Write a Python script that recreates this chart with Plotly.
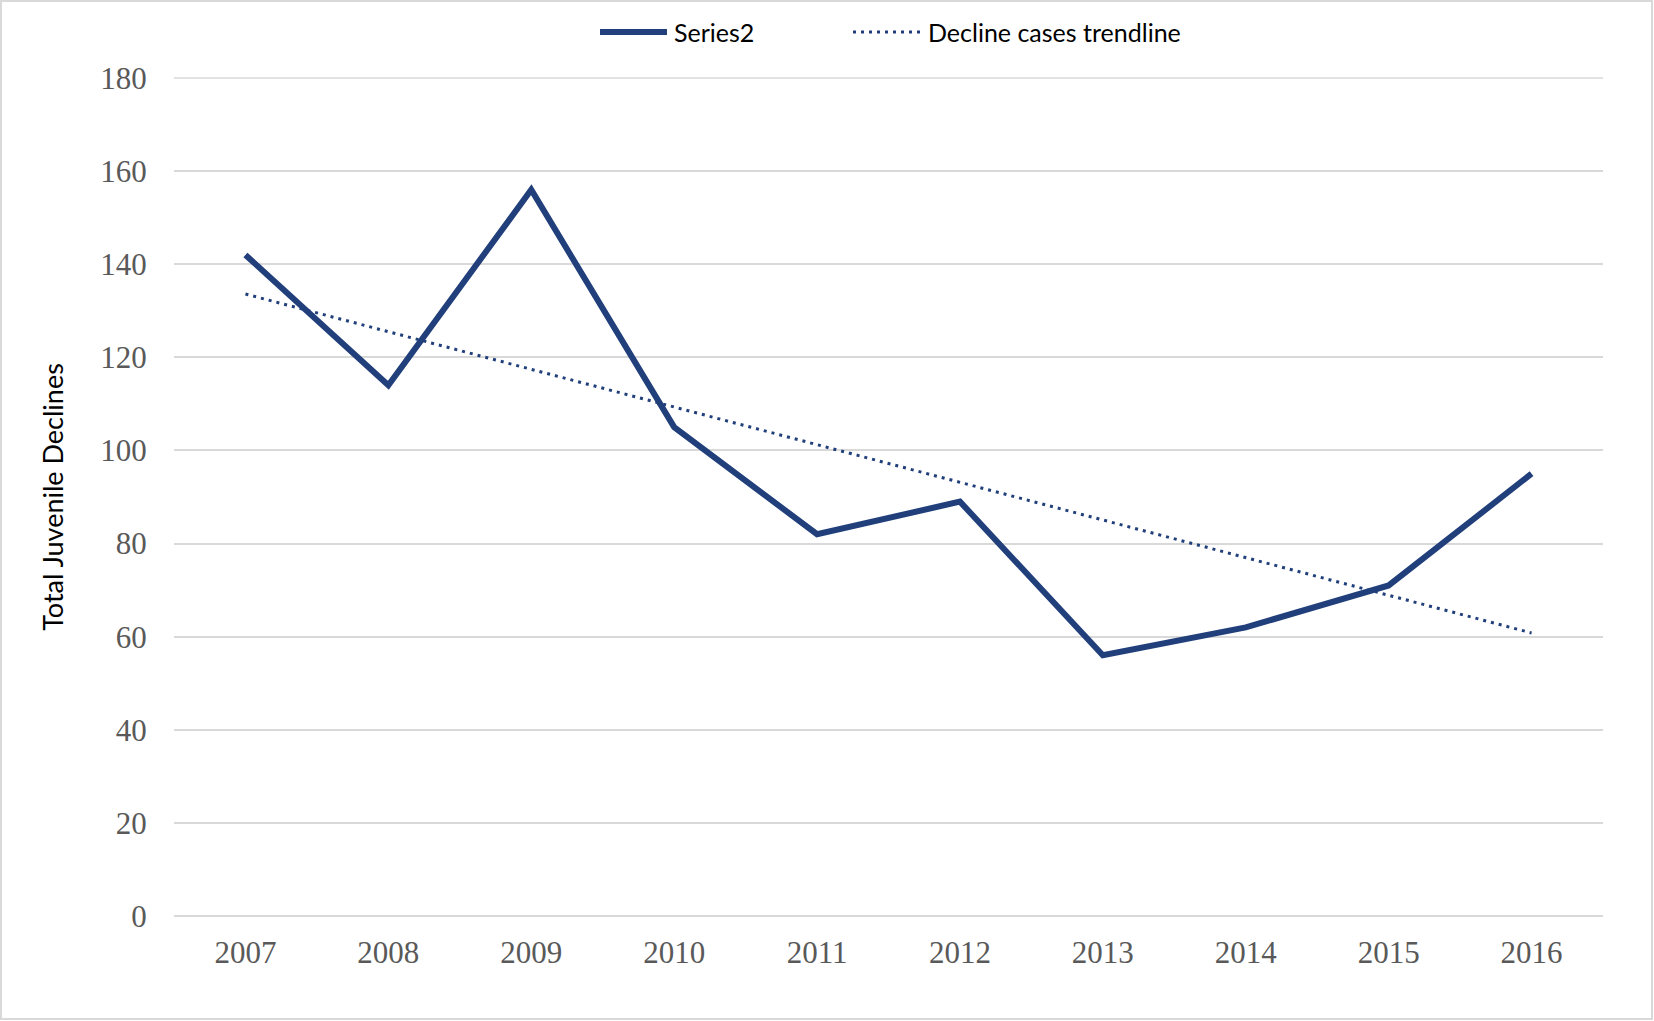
import plotly.graph_objects as go

# Yearly totals of juvenile declines
years = ["2007", "2008", "2009", "2010", "2011", "2012", "2013", "2014", "2015", "2016"]
declines = [142, 114, 156, 105, 82, 89, 56, 62, 71, 95]

# Linear trendline endpoints (first and last year)
trend_years = ["2007", "2016"]
trend_values = [133.6, 60.8]

y_ticks = [0, 20, 40, 60, 80, 100, 120, 140, 160, 180]

W, H = 1654, 1021
L, R, T, B = 174, 51, 78, 105
PW, PH = W - L - R, H - T - B

NAVY = "#213f7b"
GRID = "#d9d9d9"
TICK_FONT = dict(family="Liberation Serif", size=31, color="#595959")
SANS = "Lato"


def px_x(p):
    return (p - L) / PW


def px_y(p):
    return (H - B - p) / PH


fig = go.Figure()

fig.add_trace(go.Scatter(
    x=years, y=declines, mode="lines", name="Series2",
    line=dict(color=NAVY, width=6),
    showlegend=False,
))

fig.add_trace(go.Scatter(
    x=trend_years, y=trend_values, mode="lines", name="Decline cases trendline",
    line=dict(color=NAVY, width=3, dash="3px,5px"),
    showlegend=False,
))

shapes = [
    # outer frame
    dict(type="rect", xref="paper", yref="paper",
         x0=px_x(1), x1=px_x(W - 2), y0=px_y(H - 2), y1=px_y(1),
         line=dict(color=GRID, width=2), fillcolor="rgba(0,0,0,0)", layer="below"),
    # gridline along the top edge of the plot area (value range maximum)
    dict(type="line", xref="paper", yref="paper", x0=0, x1=1, y0=1, y1=1,
         line=dict(color=GRID, width=1.5), layer="below"),
    # legend samples
    dict(type="line", xref="paper", yref="paper",
         x0=px_x(600), x1=px_x(667), y0=px_y(32), y1=px_y(32),
         line=dict(color=NAVY, width=6)),
    dict(type="line", xref="paper", yref="paper",
         x0=px_x(853), x1=px_x(923), y0=px_y(32), y1=px_y(32),
         line=dict(color=NAVY, width=3, dash="3px,5px")),
]

annotations = [
    dict(text="Series2", xref="paper", yref="paper", x=px_x(672), y=px_y(32),
         xanchor="left", yanchor="middle", showarrow=False,
         font=dict(family=SANS, size=25, color="#000000")),
    dict(text="Decline cases trendline", xref="paper", yref="paper", x=px_x(926), y=px_y(32),
         xanchor="left", yanchor="middle", showarrow=False,
         font=dict(family=SANS, size=25, color="#000000")),
]

fig.update_layout(
    width=W, height=H,
    margin=dict(l=L, r=R, t=T, b=B, pad=0),
    paper_bgcolor="white", plot_bgcolor="white",
    shapes=shapes, annotations=annotations,
    showlegend=False,
    xaxis=dict(
        type="category", categoryorder="array", categoryarray=years,
        range=[-0.5, len(years) - 0.5],
        showgrid=False, showline=False, zeroline=False,
        ticks="outside", ticklen=9, tickcolor="rgba(0,0,0,0)",
        tickfont=TICK_FONT,
    ),
    yaxis=dict(
        range=[0, 180], tickvals=y_ticks,
        showgrid=True, gridcolor=GRID, gridwidth=1.5,
        zeroline=True, zerolinecolor=GRID, zerolinewidth=1.5,
        showline=False,
        ticks="outside", ticklen=20, tickcolor="rgba(0,0,0,0)",
        tickfont=TICK_FONT,
        title=dict(text="Total Juvenile Declines", standoff=28,
                   font=dict(family=SANS, size=27, color="#000000")),
    ),
)

fig.write_html("out.html")
